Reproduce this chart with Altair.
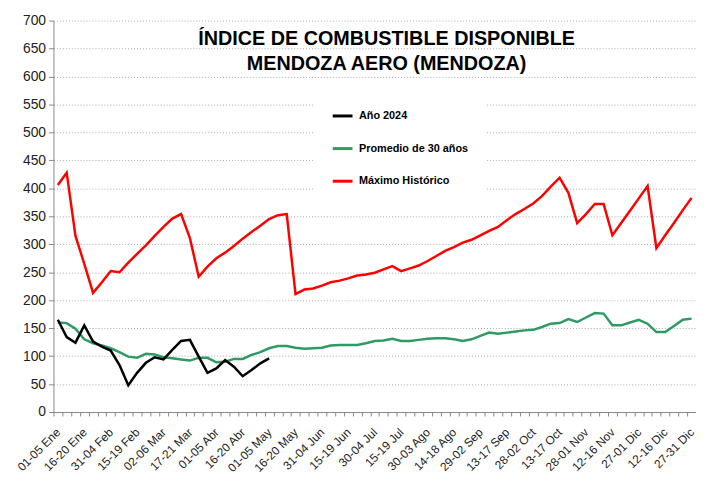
import altair as alt
import pandas as pd

pentadas = [
    "01-05 Ene", "06-10 Ene", "11-15 Ene", "16-20 Ene", "21-25 Ene", "26-30 Ene",
    "31-04 Feb", "05-09 Feb", "10-14 Feb", "15-19 Feb", "20-24 Feb", "25-01 Mar",
    "02-06 Mar", "07-11 Mar", "12-16 Mar", "17-21 Mar", "22-26 Mar", "27-31 Mar",
    "01-05 Abr", "06-10 Abr", "11-15 Abr", "16-20 Abr", "21-25 Abr", "26-30 Abr",
    "01-05 May", "06-10 May", "11-15 May", "16-20 May", "21-25 May", "26-30 May",
    "31-04 Jun", "05-09 Jun", "10-14 Jun", "15-19 Jun", "20-24 Jun", "25-29 Jun",
    "30-04 Jul", "05-09 Jul", "10-14 Jul", "15-19 Jul", "20-24 Jul", "25-29 Jul",
    "30-03 Ago", "04-08 Ago", "09-13 Ago", "14-18 Ago", "19-23 Ago", "24-28 Ago",
    "29-02 Sep", "03-07 Sep", "08-12 Sep", "13-17 Sep", "18-22 Sep", "23-27 Sep",
    "28-02 Oct", "03-07 Oct", "08-12 Oct", "13-17 Oct", "18-22 Oct", "23-27 Oct",
    "28-01 Nov", "02-06 Nov", "07-11 Nov", "12-16 Nov", "17-21 Nov", "22-26 Nov",
    "27-01 Dic", "02-06 Dic", "07-11 Dic", "12-16 Dic", "17-21 Dic", "22-26 Dic",
    "27-31 Dic",
]

anio_2024 = [
    165, 134, 124, 155, 126, 117, 110, 84, 48, 70, 88, 98, 94, 111, 127, 129,
    99, 70, 78, 93, 81, 64, 75, 87, 96,
]

promedio_30 = [
    160, 159, 149, 130, 123, 119, 114, 107, 99, 97, 104, 103, 98, 96, 94, 92,
    97, 97, 89, 90, 95, 95, 102, 107, 114, 118, 118, 115, 113, 114, 115, 119,
    120, 120, 120, 123, 127, 128, 131, 127, 127, 129, 131, 132, 132, 130, 127,
    130, 136, 142, 140, 142, 144, 146, 147, 152, 158, 159, 166, 161, 169, 177,
    176, 155, 155, 160, 165, 158, 143, 143, 154, 165, 167,
]

maximo = [
    406, 428, 315, 265, 213, 232, 252, 250, 267, 283, 298, 315, 331, 346, 354,
    311, 242, 260, 275, 285, 297, 310, 322, 333, 345, 352, 354, 211, 219, 221,
    226, 232, 235, 239, 244, 246, 249, 255, 261, 252, 257, 262, 270, 279, 288,
    295, 303, 308, 316, 324, 331, 343, 354, 363, 373, 386, 403, 419, 392, 338,
    354, 372, 372, 316, 338, 360, 382, 404, 293, 316, 338, 361, 383,
]

series = ["Año 2024", "Promedio de 30 años", "Máximo Histórico"]
colores = ["#000000", "#2f9a62", "#ff0000"]

rows = []
for nombre, valores in [("Máximo Histórico", maximo),
                        ("Promedio de 30 años", promedio_30),
                        ("Año 2024", anio_2024)]:
    for p, v in zip(pentadas, valores):
        rows.append({"pentada": p, "serie": nombre, "valor": v})
df = pd.DataFrame(rows)

mostradas = pentadas[::3]
label_expr = ("indexof([" + ",".join("'" + s + "'" for s in mostradas) +
              "], datum.value) >= 0 ? datum.value : ''")

FONT = "Liberation Sans"

x_enc = alt.X(
    "pentada:O",
    sort=pentadas,
    bandPosition=0.5,
    scale=alt.Scale(type="band", paddingInner=0, paddingOuter=0),
    axis=alt.Axis(
        title=None,
        labelExpr=label_expr,
        labelOverlap=False,
        labelAngle=-45,
        labelAlign="right",
        labelBaseline="middle",
        labelFontSize=12,
        labelFont=FONT,
        labelColor="#222222",
        labelPadding=14,
        tickBand="extent",
        tickSize=4,
        tickColor="#888888",
        domainColor="#888888",
        grid=False,
    ),
)

y_enc = alt.Y(
    "valor:Q",
    scale=alt.Scale(domain=[0, 700], nice=False),
    axis=alt.Axis(
        title=None,
        values=list(range(0, 701, 50)),
        labelFontSize=14,
        labelFont=FONT,
        labelColor="#222222",
        tickSize=5,
        tickColor="#888888",
        domainColor="#888888",
        grid=True,
        gridDash=[1, 2],
        gridColor="#aaaaaa",
        labelPadding=3,
    ),
)

color_enc = alt.Color(
    "serie:N",
    scale=alt.Scale(domain=series, range=colores),
    legend=alt.Legend(
        title=None,
        orient="none",
        legendX=263,
        legendY=67,
        fillColor="white",
        padding=18,
        symbolType="stroke",
        symbolStrokeWidth=3,
        symbolSize=400,
        labelFontSize=11,
        labelFontWeight="bold",
        labelFont=FONT,
        labelColor="#000000",
        rowPadding=15,
        labelOffset=5,
    ),
)

capas = []
for nombre in ["Máximo Histórico", "Promedio de 30 años", "Año 2024"]:
    capas.append(
        alt.Chart(df)
        .transform_filter(alt.datum.serie == nombre)
        .mark_line(strokeWidth=2.5)
        .encode(x=x_enc, y=y_enc, color=color_enc)
    )

chart = alt.layer(*capas).properties(
    width=650,
    height=396,
    autosize=alt.AutoSizeParams(type="none"),
    padding={"left": 46, "top": 10, "right": 0, "bottom": 62},
    title=alt.TitleParams(
        text=["ÍNDICE DE COMBUSTIBLE DISPONIBLE", "MENDOZA AERO (MENDOZA)"],
        fontSize=20,
        font=FONT,
        fontWeight="bold",
        color="#000000",
        anchor="middle",
        baseline="top",
        offset=0,
        dx=12,
        dy=61,
        lineHeight=25,
    ),
).configure_view(stroke=None)

chart.save("out.html", embed_options={"renderer": "svg", "actions": False})
